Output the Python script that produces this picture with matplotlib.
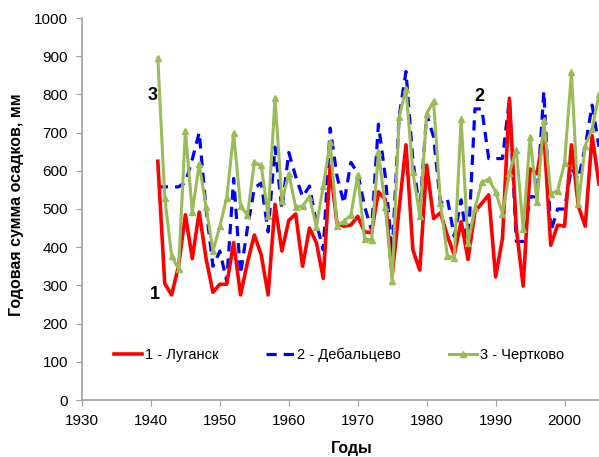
import matplotlib
matplotlib.use("Agg")
import matplotlib.pyplot as plt
from matplotlib.lines import Line2D

plt.rcParams['font.family'] = ['Liberation Sans', 'DejaVu Sans']

# годы наблюдений
years = list(range(1941, 2006))

# 1 - Луганск
lugansk = [625, 305, 275, 350, 485, 370, 492, 370, 282, 303,
           303, 412, 275, 360, 432, 380, 275, 512, 390, 470,
           487, 350, 450, 412, 318, 612, 462, 455, 458, 481,
           440, 438, 545, 525, 325, 500, 668, 393, 340, 615,
           475, 490, 430, 380, 467, 368, 493, 515, 537, 322,
           423, 790, 450, 298, 605, 592, 698, 405, 458, 455,
           668, 508, 455, 692, 565]

# 2 - Дебальцево
debaltsevo = [558, 558, 558, 558, 570, 630, 700, 500, 350, 390,
              310, 580, 330, 450, 555, 568, 440, 662, 500, 648,
              585, 532, 560, 463, 393, 712, 585, 515, 622, 594,
              506, 445, 722, 585, 385, 742, 860, 628, 497, 748,
              689, 515, 528, 428, 524, 397, 762, 762, 632, 632,
              632, 788, 415, 415, 532, 532, 808, 441, 500, 500,
              606, 578, 663, 772, 663]

# 3 - Чертково
chertkovo = [895, 530, 378, 342, 705, 492, 618, 506, 390, 455,
             530, 698, 508, 484, 622, 614, 482, 790, 520, 592,
             505, 508, 532, 454, 560, 676, 456, 468, 484, 588,
             422, 418, 648, 506, 312, 740, 815, 596, 482, 750,
             782, 515, 378, 372, 735, 410, 502, 570, 578, 545,
             488, 595, 655, 448, 688, 518, 732, 540, 548, 620,
             858, 512, 665, 710, 800]

x_ticks = list(range(1930, 2001, 10))
y_ticks = list(range(0, 1001, 100))

fig = plt.figure(figsize=(5.99, 4.57), dpi=100)
ax = fig.add_axes([82 / 599, 1 - 400 / 457, 1 - 82 / 599, 382 / 457])

ax.plot(years, debaltsevo, color='#0000FF', lw=2.3, dashes=(3.2, 2.2), zorder=2)
ax.plot(years, lugansk, color='#FF0000', lw=2.6, zorder=3)
ax.plot(years, chertkovo, color='#9BBB59', lw=2.2, marker='^', ms=5,
        markeredgecolor='#9BBB59', zorder=4)

ax.set_xlim(1930, 2005)
ax.set_ylim(0, 1000)
ax.set_xticks(x_ticks)
ax.set_yticks(y_ticks)
ax.tick_params(labelsize=11, length=4, color='#a0a0a0', direction='out', pad=6)

for s in ['top', 'right']:
    ax.spines[s].set_visible(False)
for s in ['left', 'bottom']:
    ax.spines[s].set_color('#a0a0a0')
    ax.spines[s].set_linewidth(1.2)

handles = [
    Line2D([], [], color='#FF0000', lw=2.6),
    Line2D([], [], color='#0000FF', lw=2.3, dashes=(3.2, 2.2)),
    Line2D([], [], color='#9BBB59', lw=2.2, marker='^', ms=5),
]
labels = ['1 - Луганск', '2 - Дебальцево', '3 - Чертково']
ax.legend(handles, labels, ncol=3, frameon=False, fontsize=10.5,
          loc='center', bbox_to_anchor=(0.497, 0.118),
          handlelength=1.9, handletextpad=0.2, columnspacing=3.3)

# номера кривых
ax.text(1941.0, 797, '3', fontsize=13, fontweight='bold', ha='right', va='center')
ax.text(1941.3, 275, '1', fontsize=13, fontweight='bold', ha='right', va='center')
ax.text(1988.3, 795, '2', fontsize=13, fontweight='bold', ha='right', va='center')

fig.text(17 / 599, 1 - 205 / 457, 'Годовая сумма осадков, мм', rotation=90,
         fontsize=11.5, fontweight='bold', ha='center', va='center')
fig.text(352 / 599, 1 - 448 / 457, 'Годы', fontsize=11.5, fontweight='bold',
         ha='center', va='center')

fig.savefig('out.png', dpi=100)
